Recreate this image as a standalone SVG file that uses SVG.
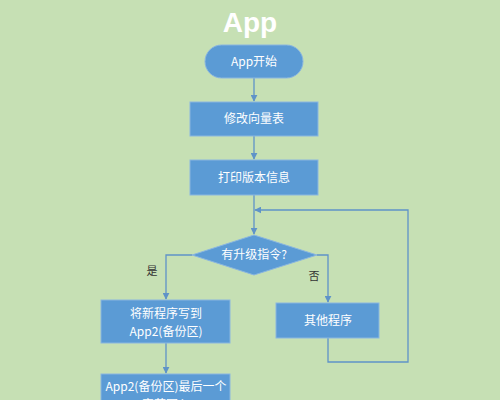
<svg xmlns="http://www.w3.org/2000/svg" width="500" height="400" viewBox="0 0 500 400">
<defs>
<style>
.n{fill:#5b9bd5;stroke:#8ab6e0;stroke-width:1}
.t{fill:#ffffff;font-family:"Noto Sans CJK SC","Liberation Sans",sans-serif;font-size:12px;text-anchor:middle}
.l{fill:none;stroke:#5f93c8;stroke-width:1.3}
.lab{fill:#333333;font-family:"Noto Sans CJK SC","Liberation Sans",sans-serif;font-size:11px;text-anchor:middle}
</style>
<marker id="a" viewBox="0 0 10 10" refX="9" refY="5" markerWidth="7" markerHeight="7" orient="auto" markerUnits="userSpaceOnUse">
<path d="M0,0 L10,5 L0,10 z" fill="#5f93c8"/>
</marker>
</defs>
<rect width="500" height="400" fill="#c6e0b4"/>
<text x="250" y="32" text-anchor="middle" font-family="Liberation Sans,Arial,sans-serif" font-weight="bold" font-size="28" fill="#ffffff">App</text>
<g id="connectors">
<path class="l" d="M254,78 V101" marker-end="url(#a)"/>
<path class="l" d="M254,136 V159" marker-end="url(#a)"/>
<path class="l" d="M254,195 V234" marker-end="url(#a)"/>
<path class="l" d="M192,255 H166 V299" marker-end="url(#a)"/>
<path class="l" d="M317,255 H328 V302" marker-end="url(#a)"/>
<path class="l" d="M166,343 V373" marker-end="url(#a)"/>
<path class="l" d="M328,338 V362 H408 V210 H255" marker-end="url(#a)"/>
</g>
<g id="start">
<rect class="n" x="205" y="45" width="98" height="33" rx="16.5"/>
<text class="t" x="254" y="66">App开始</text>
</g>
<g id="vector">
<rect class="n" x="190" y="102" width="128" height="34"/>
<text class="t" x="254" y="123">修改向量表</text>
</g>
<g id="version">
<rect class="n" x="190" y="160" width="128" height="35"/>
<text class="t" x="254" y="182">打印版本信息</text>
</g>
<g id="decision">
<polygon class="n" points="254,235 317,255 254,275 192,255"/>
<text class="t" x="254" y="259">有升级指令?</text>
</g>
<text class="lab" x="152" y="275">是</text>
<text class="lab" x="314" y="280">否</text>
<g id="write">
<rect class="n" x="101" y="300" width="129" height="43"/>
<text class="t" x="166" y="318">将新程序写到</text>
<text class="t" x="166" y="336">App2(备份区)</text>
</g>
<g id="other">
<rect class="n" x="276" y="303" width="103" height="35"/>
<text class="t" x="328" y="325">其他程序</text>
</g>
<g id="last">
<rect class="n" x="101" y="374" width="129" height="40"/>
<text class="t" x="166" y="391">App2(备份区)最后一个</text>
<text class="t" x="166" y="409">字节写入</text>
</g>
</svg>
